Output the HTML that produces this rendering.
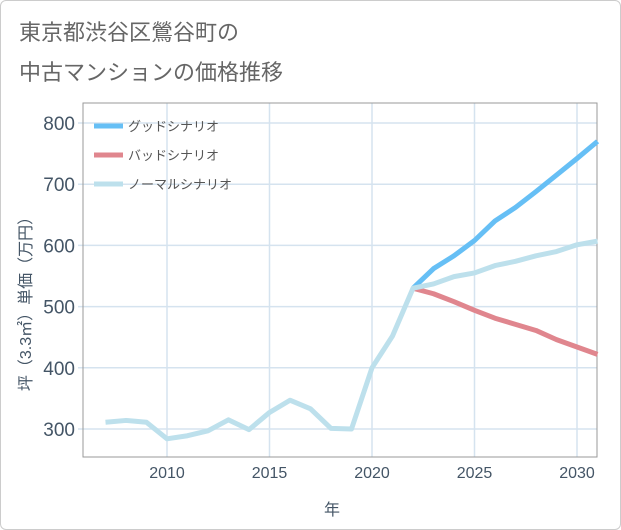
<!DOCTYPE html>
<html><head><meta charset="utf-8"><style>
body{margin:0;background:#fff;}
#wrap{position:relative;width:619px;height:528px;border:1px solid #ccc;border-radius:6px;background:#fff;overflow:hidden;font-family:"Liberation Sans","Noto Sans CJK JP",sans-serif;}
.t{position:absolute;left:18px;color:#666;font-size:22px;}
</style></head><body>
<div id="wrap">
<div class="t" style="top:14px">東京都渋谷区鶯谷町の</div>
<div class="t" style="top:54px">中古マンションの価格推移</div>
<svg id="chart" width="621" height="530" style="position:absolute;left:-1px;top:-1px"></svg>
</div>
<script>
const years=[2007,2008,2009,2010,2011,2012,2013,2014,2015,2016,2017,2018,2019,2020,2021,2022,2023,2024,2025,2026,2027,2028,2029,2030,2031];
const normal=[311,314,311,284,289,297,315,299,327,347,333,301,300,400,452,530,537,549,555,567,574,583,590,601,607];
const goodYears=[2022,2023,2024,2025,2026,2027,2028,2029,2030,2031];
const good=[530,562,583,608,640,662,688,715,742,770];
const bad=[530,521,508,494,481,471,461,446,434,422];
const xTicks=[2010,2015,2020,2025,2030];
const yTicks=[300,400,500,600,700,800];
const L=83,R=597,T=103,B=457;
const x=v=>167+(v-2010)*20.5;
const y=v=>429-(v-300)*0.612;
const svg=document.getElementById('chart');
const NS='http://www.w3.org/2000/svg';
function mk(tag,a){const e=document.createElementNS(NS,tag);for(const k in a)e.setAttribute(k,a[k]);svg.appendChild(e);return e;}
let e;
xTicks.forEach(t=>{
e=mk('line',{x1:x(t),x2:x(t),y1:T,y2:B,stroke:'#d5e3ef','stroke-width':1.5});


e=mk('text',{x:x(t),y:478,'text-anchor':'middle','font-size':16,fill:'#445566'});e.textContent=t;


});
yTicks.forEach(t=>{
e=mk('line',{x1:L-5,x2:R,y1:y(t),y2:y(t),stroke:'#d5e3ef','stroke-width':1.5});


e=mk('text',{x:L-8,y:y(t)+7,'text-anchor':'end','font-size':19,fill:'#445566'});e.textContent=t;


});
e=mk('rect',{x:L,y:T,width:R-L,height:B-T,fill:'none',stroke:'#999','stroke-width':1});


function line(xs,vs,color,name){
const p=mk('polyline',{points:xs.map((v,i)=>x(v)+','+y(vs[i])).join(' '),fill:'none',stroke:color,'stroke-width':5,'stroke-linejoin':'round'});


}
line(goodYears,bad,'#e0868e','bad-scenario-line');
line(goodYears,good,'#66bff5','good-scenario-line');
line(years,normal,'#bde0ec','normal-scenario-line');
const legend=[['グッドシナリオ','#66bff5'],['バッドシナリオ','#e0868e'],['ノーマルシナリオ','#bde0ec']];
legend.forEach((l,i)=>{
const yy=126+i*29;
e=mk('line',{x1:94,x2:123,y1:yy,y2:yy,stroke:l[1],'stroke-width':5});


e=mk('text',{x:128,y:yy+5,'font-size':13,fill:'#555'});e.textContent=l[0];


});
e=mk('text',{x:332,y:515,'text-anchor':'middle','font-size':16,fill:'#445566'});e.textContent='年';


e=mk('text',{x:0,y:0,'text-anchor':'middle','font-size':16,fill:'#445566',transform:'translate(31,300) rotate(-90)'});e.textContent='坪（3.3㎡）単価（万円）';


</script>
</body></html>
